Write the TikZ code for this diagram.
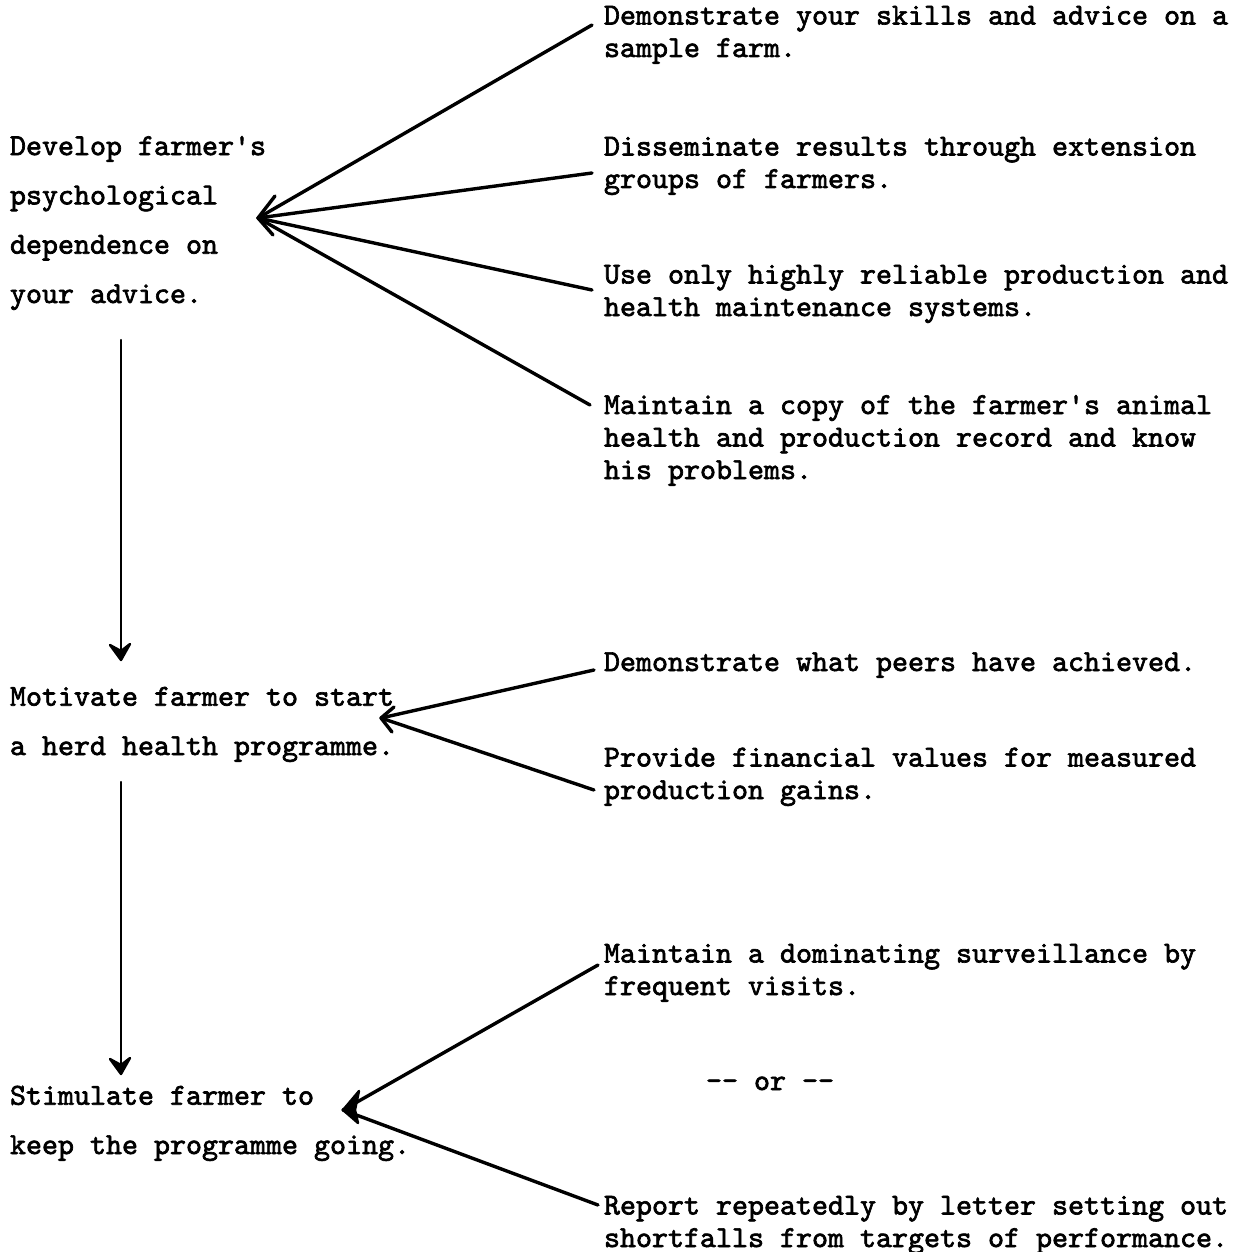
\documentclass[tikz,border=0pt]{standalone}
\usepackage{fontspec}
\newfontfamily\tw{lmmono10-regular}[Extension=.otf, Ligatures=TeXOff, FakeBold=2.2]
\usetikzlibrary{calc}
\begin{document}
\begin{tikzpicture}[x=1pt,y=-1pt,
  txt/.style={font=\tw\fontsize{30.48}{32.5}\selectfont, inner sep=0pt, outer sep=0pt, anchor=base west, align=left},
  ltxt/.style={txt, font=\tw\fontsize{30.48}{49.3}\selectfont},
  link/.style={line width=3.4pt, line cap=round},
  vlink/.style={line width=2.4pt, line cap=round},
  head/.style={line width=3.4pt, line cap=round, line join=round},
  fhead/.style={line width=2.4pt, line join=round, fill=black}]
\useasboundingbox (0,0) rectangle (1236,1252);

% right-hand texts (base anchor = baseline of the last line)
\node[txt] (r1) at (604,57) {Demonstrate your skills and advice on a\\sample farm.};
\node[txt] (r2) at (604,188) {Disseminate results through extension\\groups of farmers.};
\node[txt] (r3) at (604,316) {Use only highly reliable production and\\health maintenance systems.};
\node[txt] (r4) at (604,479) {Maintain a copy of the farmer's animal\\health and production record and know\\his problems.};
\node[txt] (r5) at (604,671) {Demonstrate what peers have achieved.};
\node[txt] (r6) at (604,799) {Provide financial values for measured\\production gains.};
\node[txt] (r7) at (604,995) {Maintain a dominating surveillance by\\frequent visits.};
\node[txt] (or) at (706,1090) {-- or --};
\node[txt] (r8) at (604,1247) {Report repeatedly by letter setting out\\shortfalls from targets of performance.};

% left-hand texts
\node[ltxt] (l1) at (10,303) {Develop farmer's\\psychological\\dependence on\\your advice.};
\node[ltxt] (l2) at (10,755) {Motivate farmer to start\\a herd health programme.};
\node[ltxt] (l3) at (10,1154) {Stimulate farmer to\\keep the programme going.};

% connector ends
\coordinate (t1) at (258,218);
\coordinate (a1) at (592,25);
\coordinate (a2) at (592,173);
\coordinate (a3) at (592,290);
\coordinate (a4) at (590,405);
\coordinate (t2) at (381,718);
\coordinate (b1) at (594,670);
\coordinate (b2) at (594,790);
\coordinate (t3) at (343,1110);
\coordinate (c1) at (598,965);
\coordinate (c2) at (598,1205);
\coordinate (v1s) at (121,340);
\coordinate (v1e) at (121,660);
\coordinate (v2s) at (121,782);
\coordinate (v2e) at (121,1074);

% converging lines
\foreach \s in {a1,a2,a3,a4} \draw[link] (\s) -- (t1);
\foreach \s in {b1,b2} \draw[link] (\s) -- (t2);
\foreach \s in {c1,c2} \draw[link] (\s) -- (t3);
\draw[head] ($(t1)+(17,-22)$) -- (t1) -- ($(t1)+(15,17)$);
\draw[head] ($(t2)+(13,-11)$) -- (t2) -- ($(t2)+(11,14)$);
\draw[fhead] ($(t3)+(16,-19)$) -- (t3) -- ($(t3)+(15,13)$) -- ($(t3)+(12,0)$) -- cycle;

% vertical arrows
\draw[vlink] (v1s) -- (v1e);
\draw[fhead] ($(v1e)+(-11,-15)$) -- (v1e) -- ($(v1e)+(9,-16)$) -- ($(v1e)+(0,-9)$) -- cycle;
\draw[vlink] (v2s) -- (v2e);
\draw[fhead] ($(v2e)+(-11,-15)$) -- (v2e) -- ($(v2e)+(9,-16)$) -- ($(v2e)+(0,-9)$) -- cycle;
\end{tikzpicture}
\end{document}
